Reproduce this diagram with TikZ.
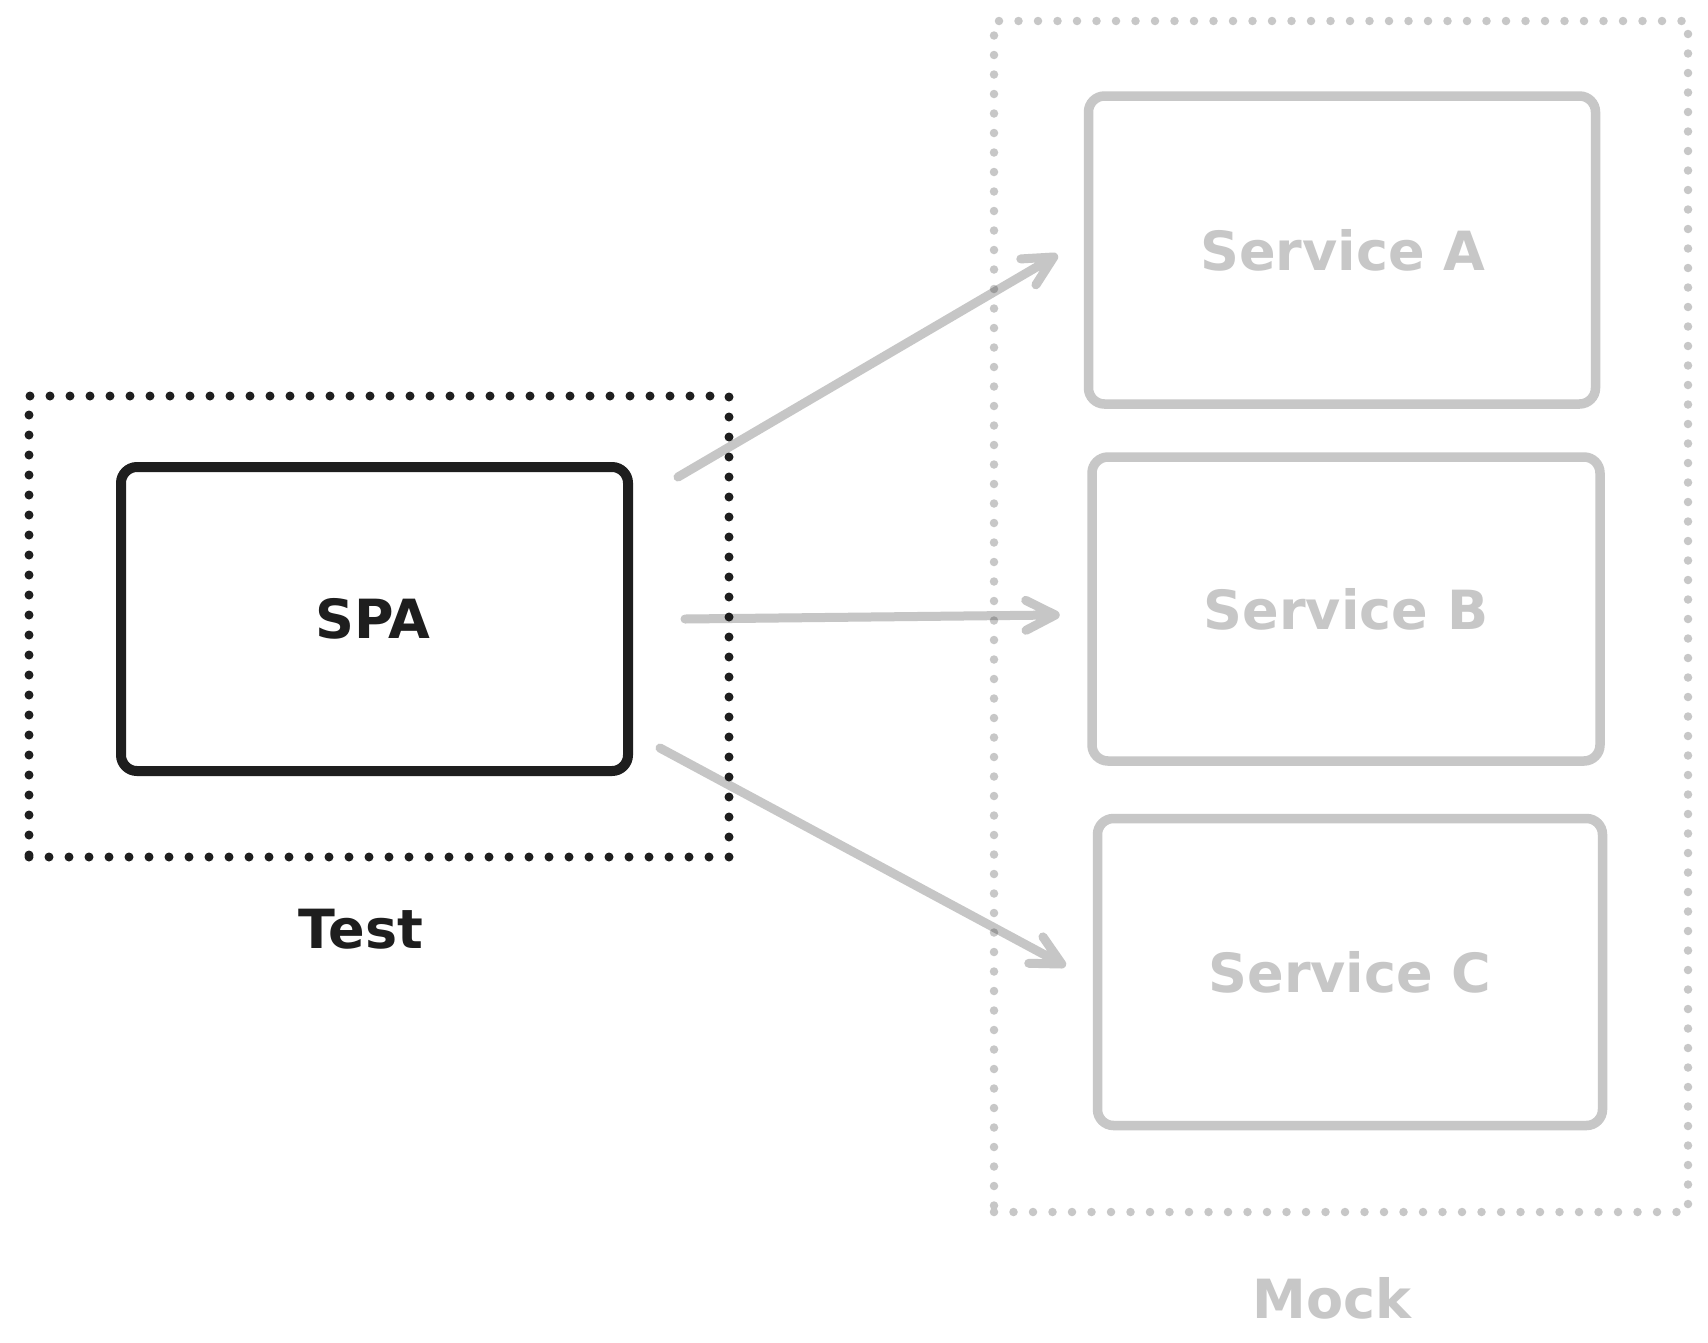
\documentclass[tikz,border=0pt]{standalone}
\usepackage{fontspec}
\setmainfont{DejaVu Sans}
\usetikzlibrary{calc}
\definecolor{ink}{HTML}{1E1E1E}
\definecolor{mute}{HTML}{C7C7C7}
\tikzset{
  lbl/.style={font=\fontsize{54}{58}\selectfont\bfseries, inner sep=0pt},
  svc/.style={draw=mute, line width=9.5pt, rounded corners=16pt, inner sep=0pt, text=mute},
  mainbox/.style={draw=ink, line width=10pt, rounded corners=16pt, inner sep=0pt, text=ink},
  dotframe/.style={line width=9pt, line cap=round, dash pattern=on 0pt off 20pt, inner sep=0pt},
  conn/.style={draw=ink, draw opacity=0.25, line width=9pt, line cap=round, line join=round},
}
\begin{document}
\begin{tikzpicture}[x=1pt,y=-1pt]
\useasboundingbox[fill=white] (0,0) rectangle (1708,1342);
% frames
\node[dotframe, draw=ink, minimum width=700pt, minimum height=461pt] (testframe) at (379,626.5) {};
\node[dotframe, draw=mute, line width=8.5pt, dash pattern=on 0pt off 19.5pt, minimum width=694pt, minimum height=1191pt] (mockframe) at (1341,616.5) {};
% boxes
\node[mainbox, minimum width=507pt, minimum height=304pt] (spa) at (374.5,619) {};
\node[lbl, text=ink] (spat) at (373,619) {SPA};
\node[svc, minimum width=507pt, minimum height=308pt] (sa) at (1342,250) {};
\node[svc, minimum width=508pt, minimum height=304pt] (sb) at (1346,609) {};
\node[svc, minimum width=505pt, minimum height=307pt] (sc) at (1350,972) {};
\node[lbl, text=mute] (sat) at (1343,250) {Service A};
\node[lbl, text=mute] (sbt) at (1346,609) {Service B};
\node[lbl, text=mute] (sct) at (1350,972) {Service C};
% captions
\node[lbl, text=ink] (testl) at (361,929) {Test};
\node[lbl, text=mute] (mockl) at (1332,1298) {Mock};
% connectors
\coordinate (a1) at ([xshift=45pt,yshift=-15pt]spa.north east);
\coordinate (a2) at ([xshift=-30pt,yshift=-7pt]sa.west);
\coordinate (b1) at ([xshift=52pt]spa.east);
\coordinate (b2) at ([xshift=-32pt,yshift=-6pt]sb.west);
\coordinate (c1) at ([xshift=27pt,yshift=28pt]spa.south east);
\coordinate (c2) at ([xshift=-31pt,yshift=8pt]sc.west);
\draw[conn] (a1) -- (a2) ($(a2)!33pt!27:(a1)$) -- (a2) -- ($(a2)!33pt!-27:(a1)$);
\draw[conn] (b1) -- (b2) ($(b2)!33pt!27:(b1)$) -- (b2) -- ($(b2)!33pt!-27:(b1)$);
\draw[conn] (c1) -- (c2) ($(c2)!33pt!27:(c1)$) -- (c2) -- ($(c2)!33pt!-27:(c1)$);
\end{tikzpicture}
\end{document}
